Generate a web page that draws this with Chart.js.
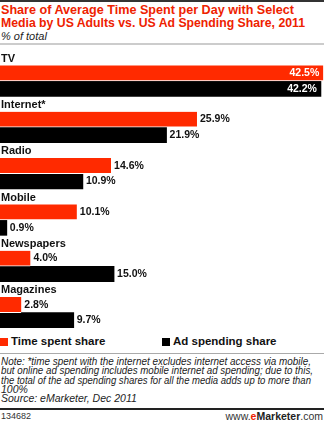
<!DOCTYPE html>
<html lang="en">
<head>
<meta charset="UTF-8">
<title>Time Spent vs Ad Spending Share, 2011</title>
<script src="https://cdn.jsdelivr.net/npm/chart.js"></script>
<style>
    body { margin: 0; background: #fff; font-family: "Liberation Sans", Arial, sans-serif; }
    #wrap { position: relative; width: 324px; height: 421px; overflow: hidden; }
    .topline { position: absolute; left: 0; top: 0; width: 324px; height: 2px; background: #333; }
    .title { position: absolute; left: 1px; top: 4px; color: #ee2200; font-weight: bold; font-size: 13.5px; line-height: 12.5px; }
    .sub { position: absolute; left: 1px; top: 30px; font-style: italic; font-size: 11px; color: #222; }
    .grey1 { position: absolute; left: 0; top: 43px; width: 324px; height: 2px; background: #ccc; }
    #chart-box { position: absolute; left: 0; top: 50px; width: 324px; height: 278px; }
    .legend { position: absolute; top: 335px; font-weight: bold; font-size: 11.5px; color: #111; }
    .legend span { display: inline-block; width: 8px; height: 8px; margin-right: 3px; vertical-align: -1px; }
    .grey2 { position: absolute; left: 0; top: 353px; width: 324px; height: 1px; background: #aaa; }
    .note { position: absolute; left: 1px; top: 357px; font-style: italic; font-size: 10.5px; line-height: 9.3px; color: #222; }
    .fit { white-space: nowrap; transform-origin: 0 0; }
    .botline { position: absolute; left: 0; top: 408px; width: 324px; height: 2px; background: #222; }
    .id { position: absolute; left: 1px; top: 411px; font-size: 9px; color: #333; }
    .brand { position: absolute; right: 1px; top: 410px; font-size: 10.5px; color: #333; }
    .brand b { color: #222; }
    .brand .e { color: #ee2200; font-weight: bold; }
</style>
</head>
<body>
<div id="wrap">
    <div class="topline"></div>
    <div class="title">
        <div class="fit" data-w="293">Share of Average Time Spent per Day with Select</div>
        <div class="fit" data-w="304">Media by US Adults vs. US Ad Spending Share, 2011</div>
    </div>
    <div class="sub">% of total</div>
    <div class="grey1"></div>
    <div id="chart-box"><canvas id="media-chart" width="324" height="278"></canvas></div>
    <div class="legend" style="left:0px;"><span style="background:#ff2a00;"></span>Time spent share</div>
    <div class="legend" style="left:162px;"><span style="background:#000;"></span>Ad spending share</div>
    <div class="grey2"></div>
    <div class="note">
        <div class="fit" data-w="310">Note: *time spent with the internet excludes internet access via mobile,</div>
        <div class="fit" data-w="312">but online ad spending includes mobile internet ad spending; due to this,</div>
        <div class="fit" data-w="310">the total of the ad spending shares for all the media adds up to more than</div>
        <div class="fit">100%</div>
        <div class="fit">Source: eMarketer, Dec 2011</div>
    </div>
    <div class="botline"></div>
    <div class="id">134682</div>
    <div class="brand">www.<span class="e">e</span><b>Marketer</b>.com</div>
</div>

<script>
    // squeeze long text lines to the width they have in the original
    document.querySelectorAll('.fit[data-w]').forEach(el => {
        el.style.display = 'inline-block';
        const w = el.getBoundingClientRect().width;
        el.style.display = 'block';
        el.style.transform = 'scaleX(' + (el.dataset.w / w) + ')';
    });
</script>

<script>
    // Data
    const media = ['TV', 'Internet*', 'Radio', 'Mobile', 'Newspapers', 'Magazines'];
    const timeSpent = [42.5, 25.9, 14.6, 10.1, 4.0, 2.8];
    const adSpending = [42.2, 21.9, 10.9, 0.9, 15.0, 9.7];

    // Draws the category label in the empty slot above each pair of bars,
    // and the value labels next to (or inside) the bars
    const labelPlugin = {
        id: 'labels',
        afterDatasetsDraw(chart) {
            const ctx = chart.ctx;
            const yScale = chart.scales.y;
            const band = yScale.getPixelForValue(1) - yScale.getPixelForValue(0);
            ctx.save();
            ctx.textBaseline = 'middle';
            // category names
            ctx.font = 'bold 11px "Liberation Sans", Arial, sans-serif';
            ctx.fillStyle = '#111';
            ctx.textAlign = 'left';
            media.forEach((name, i) => {
                const top = yScale.getPixelForValue(i) - band / 2;
                ctx.fillText(name, 1, top + band / 6 + 1);
            });
            // values
            ctx.font = 'bold 10.5px "Liberation Sans", Arial, sans-serif';
            [1, 2].forEach(d => {
                const meta = chart.getDatasetMeta(d);
                const values = chart.data.datasets[d].data;
                meta.data.forEach((bar, i) => {
                    const txt = values[i].toFixed(1) + '%';
                    const w = ctx.measureText(txt).width;
                    if (bar.x + w + 6 > chart.chartArea.right) {
                        ctx.fillStyle = '#fff';
                        ctx.textAlign = 'right';
                        ctx.fillText(txt, Math.min(bar.x, chart.chartArea.right) - 4, bar.y);
                    } else {
                        ctx.fillStyle = '#111';
                        ctx.textAlign = 'left';
                        ctx.fillText(txt, bar.x + 3, bar.y);
                    }
                });
            });
            ctx.restore();
        }
    };

    const ctx = document.getElementById('media-chart').getContext('2d');
    new Chart(ctx, {
        type: 'bar',
        data: {
            labels: media,
            datasets: [
                {
                    // empty slot that leaves room for the category name
                    label: 'spacer',
                    data: media.map(() => null)
                },
                {
                    label: 'Time spent share',
                    data: timeSpent,
                    backgroundColor: '#ff2a00',
                    borderColor: '#fff',
                    borderWidth: { bottom: 1 },
                    borderSkipped: false
                },
                {
                    label: 'Ad spending share',
                    data: adSpending,
                    backgroundColor: '#000',
                    borderWidth: 0
                }
            ]
        },
        options: {
            indexAxis: 'y',
            responsive: false,
            animation: false,
            layout: { padding: 0 },
            datasets: {
                bar: { categoryPercentage: 1, barPercentage: 1 }
            },
            scales: {
                x: { display: false, min: 0, max: 42.6 },
                y: { display: false }
            },
            plugins: {
                legend: { display: false },
                tooltip: { enabled: false }
            }
        },
        plugins: [labelPlugin]
    });
</script>
</body>
</html>
